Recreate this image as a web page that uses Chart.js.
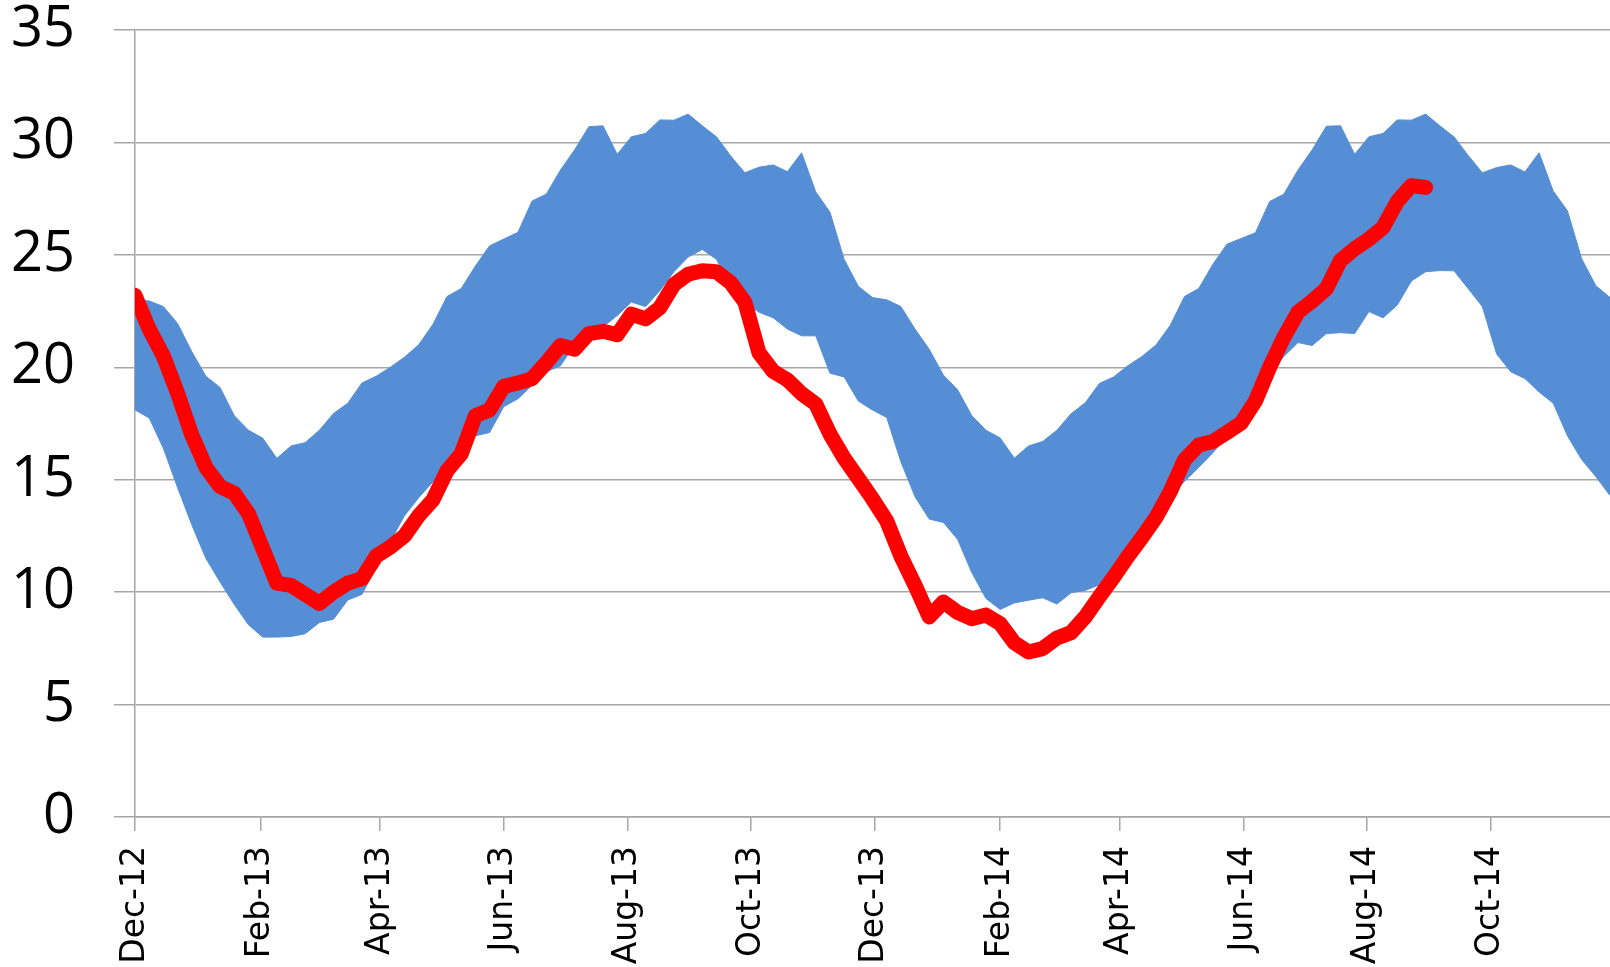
<!DOCTYPE html>
<html>
<head>
<meta charset="utf-8">
<script src="https://cdn.jsdelivr.net/npm/chart.js@4.4.1/dist/chart.umd.min.js"></script>
<style>
  html, body { margin: 0; padding: 0; background: #fff; }
  #wrap { width: 1610px; height: 967px; position: relative; }
</style>
</head>
<body>
<div id="wrap"><canvas id="myChart"></canvas></div>
<script>
// weekly series, first week starts 1 Dec 2012
const weekStart = Date.UTC(2012, 11, 1);

const rangeHigh = [
  23.0, 22.95, 22.7, 21.95, 20.7, 19.6, 19.1, 17.85, 17.2, 16.85, 15.95, 16.5, 16.65, 17.2, 17.95, 18.4,
  19.3, 19.6, 20.0, 20.45, 21.0, 21.9, 23.15, 23.5, 24.5, 25.4, 25.7, 26.0, 27.4,
  27.7, 28.77, 29.67, 30.7, 30.74, 29.47, 30.25, 30.4, 31.0, 30.99, 31.26, 30.74, 30.25, 29.4, 28.65,
  28.9, 29.0, 28.7, 29.54, 27.8, 26.9, 24.8, 23.6, 23.1, 23.0, 22.7, 21.7, 20.8,
  19.65, 19.0, 17.85, 17.2, 16.86, 15.96, 16.5, 16.7, 17.2, 17.93, 18.42, 19.28, 19.57, 20.07, 20.48,
  21.0, 21.87, 23.15, 23.5, 24.58, 25.48, 25.73, 25.98, 27.37, 27.7, 28.77, 29.67, 30.72,
  30.74, 29.47, 30.25, 30.4, 31.0, 30.99, 31.26, 30.74, 30.25, 29.42, 28.65, 28.88, 29.0, 28.69,
  29.54, 27.83, 26.96, 24.83, 23.63, 23.1
];

const rangeLow = [
  18.1, 17.75, 16.4, 14.65, 13.0, 11.5, 10.45, 9.45, 8.55, 8.0, 8.0, 8.03, 8.15, 8.65, 8.8, 9.65,
  9.9, 11.1, 12.25, 13.4, 14.2, 14.9, 15.6, 16.2, 16.95, 17.1, 18.25, 18.6, 19.2,
  19.8, 20.07, 21.0, 21.6, 21.8, 22.3, 22.9, 22.7, 23.4, 24.25, 24.9, 25.24, 24.8, 23.6, 22.86,
  22.45, 22.2, 21.7, 21.4, 21.4, 19.74, 19.57, 18.5, 18.1, 17.77, 15.8, 14.24, 13.25,
  13.1, 12.35, 10.87, 9.72, 9.23, 9.52, 9.64, 9.75, 9.47, 9.97, 10.08, 10.33, 11.1, 12.0, 12.9,
  13.58, 14.24, 14.93, 15.55, 16.2, 16.95, 17.7, 18.67, 19.74, 20.48, 21.1, 20.97, 21.5,
  21.54, 21.5, 22.48, 22.2, 22.77, 23.84, 24.25, 24.3, 24.29, 23.5, 22.7, 20.6, 19.8, 19.5,
  18.9, 18.4, 16.95, 15.9, 15.14, 14.3
];

const current = [
  23.2, 21.7, 20.5, 18.85, 17.0, 15.55, 14.7, 14.4, 13.5, 11.95, 10.4, 10.3, 9.9, 9.5, 10.0, 10.4,
  10.6, 11.6, 12.0, 12.5, 13.4, 14.1, 15.4, 16.15, 17.85, 18.1, 19.15, 19.3, 19.5,
  20.2, 20.97, 20.8, 21.5, 21.6, 21.45, 22.36, 22.15, 22.64, 23.68, 24.14, 24.29, 24.25, 23.76, 22.9,
  20.64, 19.82, 19.44, 18.83, 18.37, 17.03, 15.96, 15.06, 14.15, 13.17, 11.6, 10.3, 8.9,
  9.56, 9.1, 8.82, 8.98, 8.6, 7.75, 7.34, 7.49, 7.96, 8.2, 8.9, 9.8, 10.66, 11.58, 12.43,
  13.33, 14.48, 15.88, 16.54, 16.7, 17.1, 17.52, 18.5, 20.0, 21.33, 22.45, 22.94, 23.5,
  24.75, 25.27, 25.7, 26.22, 27.37, 28.08, 28.0
];

const tickLabels = ['Dec-12', 'Feb-13', 'Apr-13', 'Jun-13', 'Aug-13', 'Oct-13',
  'Dec-13', 'Feb-14', 'Apr-14', 'Jun-14', 'Aug-14', 'Oct-14'];
const tickMonths = [[2012, 11], [2013, 1], [2013, 3], [2013, 5], [2013, 7], [2013, 9],
  [2013, 11], [2014, 1], [2014, 3], [2014, 5], [2014, 7], [2014, 9]];

const DAY = 86400000;
const tickDays = tickMonths.map(m => (Date.UTC(m[0], m[1], 1) - weekStart) / DAY);
const toPoints = arr => arr.map((v, i) => ({ x: i * 7, y: v }));

const bandBlue = '#558ed5';
const gridGrey = '#a6a6a6';

new Chart(document.getElementById('myChart'), {
  type: 'line',
  data: {
    datasets: [{
      label: 'Current',
      data: toPoints(current),
      borderColor: '#ff0000',
      borderWidth: 15,
      borderCapStyle: 'round',
      borderJoinStyle: 'round',
      pointRadius: 0,
      fill: false,
    }, {
      label: 'High',
      data: toPoints(rangeHigh),
      borderColor: bandBlue,
      backgroundColor: bandBlue,
      borderWidth: 1,
      pointRadius: 0,
      fill: '+1',
    }, {
      label: 'Low',
      data: toPoints(rangeLow),
      borderColor: bandBlue,
      borderWidth: 1,
      pointRadius: 0,
      fill: false,
    }]
  },
  options: {
    responsive: true,
    maintainAspectRatio: false,
    animation: false,
    tension: 0,
    layout: {
      padding: { top: 30, right: 0, bottom: 0, left: 0 }
    },
    scales: {
      x: {
        type: 'linear',
        min: 0,
        max: 728,
        afterBuildTicks: scale => {
          scale.ticks = tickDays.map(d => ({ value: d }));
        },
        afterFit: scale => {
          scale.height = 150;
          scale.paddingLeft = 0;
          scale.paddingRight = 0;
        },
        ticks: {
          autoSkip: false,
          minRotation: 90,
          maxRotation: 90,
          padding: 15,
          color: '#000',
          font: { family: 'DejaVu Sans', size: 33 },
          callback: (value, index) => tickLabels[index]
        },
        grid: {
          drawOnChartArea: false,
          drawTicks: true,
          tickLength: 14,
          color: gridGrey,
          lineWidth: 1.5
        },
        border: { color: gridGrey, width: 1.5 }
      },
      y: {
        min: 0,
        max: 35,
        afterFit: scale => {
          scale.width = 135;
          scale.paddingTop = 0;
          scale.paddingBottom = 0;
        },
        ticks: {
          stepSize: 5,
          padding: 39,
          color: '#000',
          font: { family: 'Open Sans', size: 56, lineHeight: 1 }
        },
        grid: {
          color: gridGrey,
          lineWidth: 1.5,
          tickLength: 21
        },
        border: { color: gridGrey, width: 1.5 }
      }
    },
    plugins: {
      legend: { display: false },
      tooltip: { enabled: false }
    }
  }
});
</script>
</body>
</html>
